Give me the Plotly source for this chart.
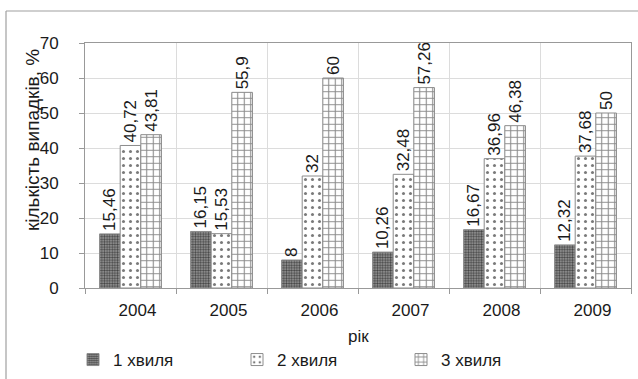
import plotly.graph_objects as go

# Data: share of cases by wave, per year
years = ["2004", "2005", "2006", "2007", "2008", "2009"]
wave1 = [15.46, 16.15, 8, 10.26, 16.67, 12.32]
wave2 = [40.72, 15.53, 32, 32.48, 36.96, 37.68]
wave3 = [43.81, 55.9, 60, 57.26, 46.38, 50]
series_names = ["1 хвиля", "2 хвиля", "3 хвиля"]

W, H = 638, 379
L, R, T, B = 85, 7, 43, 91
PW, PH = W - L - R, H - T - B

FONT = "Liberation Sans, Arial, sans-serif"
INK = "#1a1a1a"
FRAME = "#a0a0a0"


def px_x(px):
    return (px - L) / PW


def px_y(py):
    return (H - B - py) / PH


def fmt(v):
    return f"{v:g}".replace(".", ",")


styles = [
    dict(shape=".", fgcolor="#454545", bgcolor="#a0a0a0", size=2.6, solidity=0.5),
    dict(shape=".", fgcolor="#7a7a7a", bgcolor="#ffffff", size=7, solidity=0.15),
    dict(shape="+", fgcolor="#8a8a8a", bgcolor="#ffffff", size=6.5, solidity=0.3),
]

fig = go.Figure()
for name, vals, pat in zip(series_names, [wave1, wave2, wave3], styles):
    fig.add_trace(go.Bar(
        name=name,
        x=years,
        y=vals,
        text=[fmt(v) for v in vals],
        textposition="outside",
        textangle=-90,
        constraintext="none",
        cliponaxis=False,
        textfont=dict(family=FONT, size=17, color=INK),
        marker=dict(
            color=pat["bgcolor"],
            line=dict(color="#8c8c8c", width=1),
            pattern=pat,
        ),
    ))

fig.update_layout(
    template="none",
    width=W,
    height=H,
    margin=dict(l=L, r=R, t=T, b=B, autoexpand=False),
    paper_bgcolor="white",
    plot_bgcolor="white",
    barmode="group",
    bargap=0.32,
    bargroupgap=0,
    font=dict(family=FONT, size=17, color=INK),
    showlegend=True,
    legend=dict(
        orientation="h",
        x=px_x(73),
        xanchor="left",
        y=px_y(360),
        yanchor="middle",
        entrywidth=119,
        font=dict(family=FONT, size=17, color=INK),
        bgcolor="rgba(0,0,0,0)",
    ),
    xaxis=dict(
        type="category",
        automargin=False,
        tickson="boundaries",
        ticks="outside",
        ticklen=5,
        tickcolor="#999999",
        showgrid=True,
        gridcolor="#dcdcdc",
        showline=True,
        linecolor="#999999",
        mirror=True,
        ticklabelshift=7,
        ticklabelstandoff=7,
        tickfont=dict(family=FONT, size=17, color=INK),
    ),
    yaxis=dict(
        range=[0, 70],
        dtick=10,
        automargin=False,
        ticks="outside",
        ticklen=5,
        tickcolor="#999999",
        showgrid=True,
        gridcolor="#dcdcdc",
        showline=True,
        linecolor="#999999",
        mirror=True,
        zeroline=False,
        ticklabelstandoff=17,
        tickfont=dict(family=FONT, size=17, color=INK),
    ),
    annotations=[
        dict(text="кількість випадків, %", textangle=-90, xref="paper", yref="paper",
             x=px_x(32), y=px_y(140), xanchor="center", yanchor="middle",
             showarrow=False, font=dict(family=FONT, size=19, color=INK)),
        dict(text="рік", xref="paper", yref="paper",
             x=px_x(358), y=px_y(336), xanchor="center", yanchor="middle",
             showarrow=False, font=dict(family=FONT, size=17, color=INK)),
    ],
    # outer chart frame: top and left edges
    shapes=[
        dict(type="line", xref="paper", yref="paper",
             x0=px_x(6), x1=px_x(W), y0=px_y(11), y1=px_y(11),
             line=dict(color=FRAME, width=1.2), layer="below"),
        dict(type="line", xref="paper", yref="paper",
             x0=px_x(6), x1=px_x(6), y0=px_y(11), y1=px_y(H),
             line=dict(color=FRAME, width=1.2), layer="below"),
    ],
)

fig.write_html(
    "out.html",
    post_script="document.body.style.margin='0';"
                "document.documentElement.style.overflow='hidden';",
)
